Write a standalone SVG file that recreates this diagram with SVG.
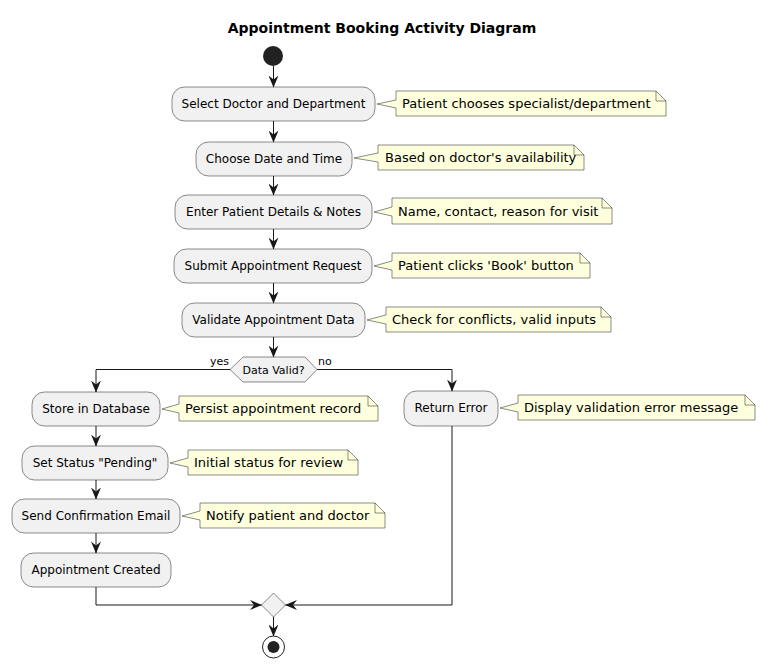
<svg xmlns="http://www.w3.org/2000/svg" width="765" height="669" viewBox="0 0 765 669">
<style>
.act rect{fill:#F1F1F1;stroke:#181818;stroke-width:0.5}
.act text{font-family:"DejaVu Sans",sans-serif;font-size:12px;fill:#000;text-anchor:middle}
.note path{fill:#FEFFDD;stroke:#181818;stroke-width:0.5}
.note text{font-family:"DejaVu Sans",sans-serif;font-size:13px;fill:#000}
.edge{fill:none;stroke:#181818;stroke-width:1}
.lbl{font-family:"DejaVu Sans",sans-serif;font-size:11px;fill:#000}
</style>
<defs>
<marker id="ah" viewBox="0 0 12 10" refX="11.5" refY="5" markerWidth="12" markerHeight="10" markerUnits="userSpaceOnUse" orient="auto">
<path d="M0,0 L12,5 L0,10 L4,5 Z" fill="#181818"/>
</marker>
</defs>
<rect width="765" height="669" fill="#FFFFFF"/>
<text x="382" y="33" font-family="DejaVu Sans, sans-serif" font-size="14" font-weight="bold" text-anchor="middle">Appointment Booking Activity Diagram</text>

<g id="start"><circle cx="273" cy="56" r="10" fill="#222222"/></g>

<g id="selectDoctor" class="act"><rect x="172" y="87" width="203" height="34" rx="12.5"/><text x="273.5" y="108">Select Doctor and Department</text></g>
<g id="note1" class="note"><path d="M396,91 L396,100 L377,104 L396,108 L396,116 L666,116 L666,101 L656,91 Z M656,91 L656,101 L666,101"/><text x="402" y="108">Patient chooses specialist/department</text></g>

<g id="chooseDate" class="act"><rect x="196" y="142" width="156" height="34" rx="12.5"/><text x="274" y="163">Choose Date and Time</text></g>
<g id="note2" class="note"><path d="M378,145 L378,153 L354,158 L378,162 L378,170 L584,170 L584,155 L574,145 Z M574,145 L574,155 L584,155"/><text x="385" y="162">Based on doctor's availability</text></g>

<g id="enterDetails" class="act"><rect x="175" y="195" width="197" height="34" rx="12.5"/><text x="273.5" y="216">Enter Patient Details &amp; Notes</text></g>
<g id="note3" class="note"><path d="M392,198 L392,207 L374,212 L392,216 L392,224 L612,224 L612,208 L602,198 Z M602,198 L602,208 L612,208"/><text x="398" y="216">Name, contact, reason for visit</text></g>

<g id="submit" class="act"><rect x="174" y="249" width="198" height="34" rx="12.5"/><text x="273" y="270">Submit Appointment Request</text></g>
<g id="note4" class="note"><path d="M392,253 L392,261 L374,266 L392,270 L392,278 L590,278 L590,263 L580,253 Z M580,253 L580,263 L590,263"/><text x="398" y="270">Patient clicks 'Book' button</text></g>

<g id="validate" class="act"><rect x="182" y="303" width="183" height="34" rx="12.5"/><text x="273.5" y="324">Validate Appointment Data</text></g>
<g id="note5" class="note"><path d="M386,307 L386,315 L367,320 L386,324 L386,332 L611,332 L611,317 L601,307 Z M601,307 L601,317 L611,317"/><text x="392" y="324">Check for conflicts, valid inputs</text></g>

<g id="decision"><polygon points="230,369.5 243,357 305,357 317,369.5 305,382 243,382" fill="#F1F1F1" stroke="#181818" stroke-width="0.5"/><text x="273.5" y="373.5" font-family="DejaVu Sans, sans-serif" font-size="11" text-anchor="middle">Data Valid?</text></g>

<g id="store" class="act"><rect x="32" y="392" width="128" height="34" rx="12.5"/><text x="96" y="413">Store in Database</text></g>
<g id="note6" class="note"><path d="M179,396 L179,404 L162,409 L179,413 L179,421 L378,421 L378,406 L368,396 Z M368,396 L368,406 L378,406"/><text x="185" y="413">Persist appointment record</text></g>

<g id="setStatus" class="act"><rect x="22" y="446" width="146" height="34" rx="12.5"/><text x="95" y="467">Set Status "Pending"</text></g>
<g id="note7" class="note"><path d="M188,450 L188,458 L170,463 L188,467 L188,475 L358,475 L358,460 L348,450 Z M348,450 L348,460 L358,460"/><text x="194" y="467">Initial status for review</text></g>

<g id="sendEmail" class="act"><rect x="12" y="499" width="168" height="34" rx="12.5"/><text x="96" y="520">Send Confirmation Email</text></g>
<g id="note8" class="note"><path d="M200,503 L200,511 L182,516 L200,520 L200,528 L385,528 L385,513 L375,503 Z M375,503 L375,513 L385,513"/><text x="206" y="520">Notify patient and doctor</text></g>

<g id="created" class="act"><rect x="21" y="553" width="150" height="34" rx="12.5"/><text x="96" y="574">Appointment Created</text></g>

<g id="returnError" class="act"><rect x="404" y="391" width="94" height="35" rx="12.5"/><text x="451" y="412">Return Error</text></g>
<g id="note9" class="note"><path d="M518,395 L518,403 L500,408 L518,412 L518,420 L755,420 L755,405 L745,395 Z M745,395 L745,405 L755,405"/><text x="524" y="412">Display validation error message</text></g>

<g id="merge"><polygon points="273.5,593 285.5,605 273.5,617 261.5,605" fill="#F1F1F1" stroke="#181818" stroke-width="0.5"/></g>

<g id="end"><circle cx="273.5" cy="647" r="11" fill="none" stroke="#222222" stroke-width="1"/><circle cx="273.5" cy="647" r="6" fill="#222222"/></g>

<g id="connectors">
<line class="edge" x1="273.5" y1="66" x2="273.5" y2="87" marker-end="url(#ah)"/>
<line class="edge" x1="273.5" y1="121" x2="273.5" y2="142" marker-end="url(#ah)"/>
<line class="edge" x1="273.5" y1="176" x2="273.5" y2="195" marker-end="url(#ah)"/>
<line class="edge" x1="273.5" y1="229" x2="273.5" y2="249" marker-end="url(#ah)"/>
<line class="edge" x1="273.5" y1="283" x2="273.5" y2="303" marker-end="url(#ah)"/>
<line class="edge" x1="273.5" y1="337" x2="273.5" y2="357" marker-end="url(#ah)"/>
<polyline class="edge" points="230,369.5 96,369.5 96,392" marker-end="url(#ah)"/>
<polyline class="edge" points="317,369.5 452,369.5 452,391" marker-end="url(#ah)"/>
<text class="lbl" x="210" y="365">yes</text>
<text class="lbl" x="318" y="365">no</text>
<line class="edge" x1="96" y1="426" x2="96" y2="446" marker-end="url(#ah)"/>
<line class="edge" x1="96" y1="480" x2="96" y2="499" marker-end="url(#ah)"/>
<line class="edge" x1="96" y1="533" x2="96" y2="553" marker-end="url(#ah)"/>
<polyline class="edge" points="96,587 96,605 261.5,605" marker-end="url(#ah)"/>
<polyline class="edge" points="452,426 452,605 285.5,605" marker-end="url(#ah)"/>
<line class="edge" x1="273.5" y1="617" x2="273.5" y2="636" marker-end="url(#ah)"/>
</g>
</svg>
